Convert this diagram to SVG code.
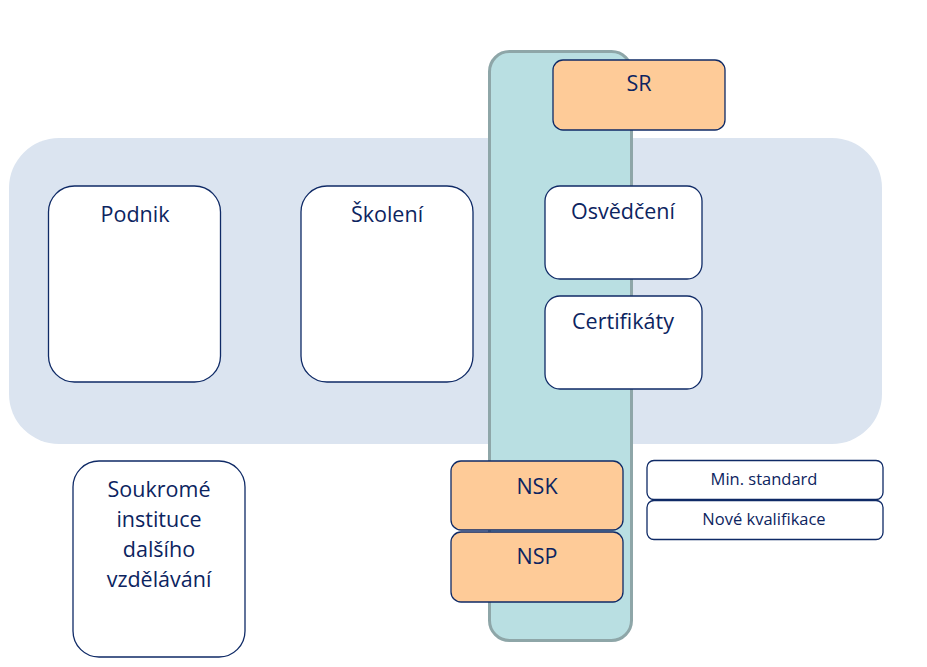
<svg xmlns="http://www.w3.org/2000/svg" width="927" height="667" viewBox="0 0 927 667">
<style>
.node{fill:#ffffff;stroke:#0f2a66;stroke-width:1.3}
.orange{fill:#fecb98;stroke:#0f2a66;stroke-width:1.3}
text{font-family:"Open Sans","Liberation Sans",sans-serif;fill:#0c2460;text-anchor:middle}
.big{font-size:21.5px}
.small{font-size:16.5px}
</style>
<rect width="927" height="667" fill="#ffffff"/>
<g id="band"><rect x="9" y="138" width="873" height="306" rx="50" fill="#dbe4f0"/></g>
<g id="pillar"><rect x="489.5" y="51.5" width="142" height="589" rx="20" fill="#b9dfe2" stroke="#8ea6a8" stroke-width="3"/></g>
<g id="connectors"></g>
<g id="sr"><rect class="orange" x="553" y="60" width="172" height="70" rx="10"/><text class="big" x="639" y="91">SR</text></g>
<g id="podnik"><rect class="node" x="48.5" y="186" width="172" height="196" rx="26"/><text class="big" x="135" y="222">Podnik</text></g>
<g id="skoleni"><rect class="node" x="301" y="186" width="172" height="196" rx="26"/><text class="big" x="387" y="222">Školení</text></g>
<g id="osvedceni"><rect class="node" x="545" y="186" width="157" height="93" rx="15"/><text class="big" x="623" y="219">Osvědčení</text></g>
<g id="certifikaty"><rect class="node" x="545" y="296" width="157" height="93" rx="15"/><text class="big" x="623" y="329">Certifikáty</text></g>
<g id="soukrome"><rect class="node" x="73" y="461" width="172" height="196" rx="26"/><text class="big" x="159" y="497">Soukromé</text><text class="big" x="159" y="527">instituce</text><text class="big" x="159" y="557">dalšího</text><text class="big" x="159" y="587">vzdělávání</text></g>
<g id="nsk"><rect class="orange" x="451" y="461" width="172" height="69" rx="10"/><text class="big" x="537" y="494">NSK</text></g>
<g id="nsp"><rect class="orange" x="451" y="532" width="172" height="70" rx="10"/><text class="big" x="537" y="564">NSP</text></g>
<g id="minstandard"><rect class="node" x="647" y="460.5" width="236" height="39" rx="7"/><text class="small" x="764" y="485">Min. standard</text></g>
<g id="novekval"><rect class="node" x="647" y="500.5" width="236" height="39" rx="7"/><text class="small" x="764" y="525">Nové kvalifikace</text></g>
</svg>
